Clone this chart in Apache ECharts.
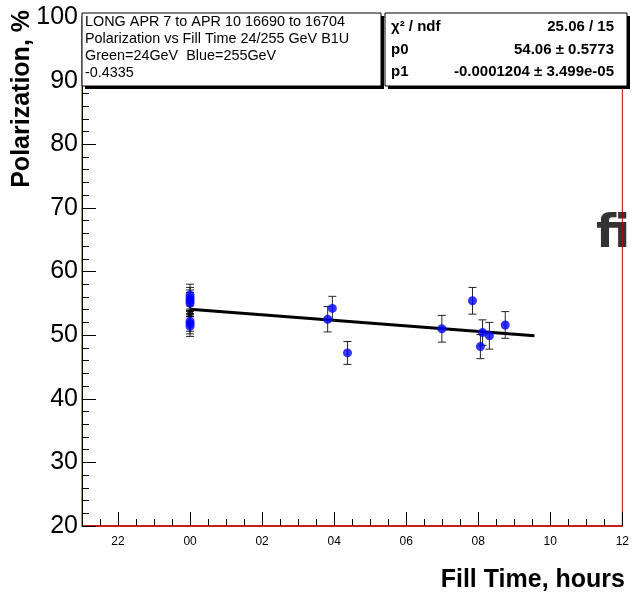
<!DOCTYPE html>
<html>
<head>
<meta charset="utf-8">
<script src="https://cdn.jsdelivr.net/npm/echarts@6/dist/echarts.min.js"></script>
<style>html,body{margin:0;padding:0;background:#fff}#c{width:632px;height:593px}</style>
</head>
<body>
<div id="c"></div>
<script>
// ---- data (hours relative to midnight; 00 = 0, 22 = -2) ----
const fillHours = [0, 0, 0, 0, 0, 0, 0, 3.82, 3.95, 4.37, 6.99, 7.84, 8.06, 8.12, 8.31, 8.75];
const polValues = [56.3, 55.8, 55.4, 55.0, 52.2, 51.8, 51.4, 52.5, 54.2, 47.2, 51.0, 55.4, 48.2, 50.4, 49.9, 51.6];
const polErrors = [1.7, 1.7, 1.7, 1.7, 1.6, 1.6, 1.6, 2.0, 1.9, 1.8, 2.1, 2.1, 1.9, 2.0, 2.1, 2.1];
const blackHours = [0];
const blackValues = [53.4];
const blackErrors = [0.5];
const fitHours = [0, 9.56];
const fitValues = [54.06, 49.92];
const majorTicks = [-2, 0, 2, 4, 6, 8, 10, 12];
const box1Lines = ['LONG APR 7 to APR 10 16690 to 16704', 'Polarization vs Fill Time 24/255 GeV B1U', 'Green=24GeV  Blue=255GeV', '-0.4335'];
const statNames = ['\u03c7\u00b2 / ndf', 'p0', 'p1'];
const statValues = ['25.06 / 15', '54.06 \u00b1 0.5773', '-0.0001204 \u00b1 3.499e-05'];

const FONT = '"Liberation Sans", Arial, sans-serif';
const pts = fillHours.map((h, i) => [h, polValues[i], polErrors[i]]);
const blk = blackHours.map((h, i) => [h, blackValues[i], blackErrors[i]]);

function errRender(color) {
  return function (params, api) {
    const x = api.value(0), y = api.value(1), e = api.value(2);
    const t = api.coord([x, y + e]), b = api.coord([x, y - e]);
    const st = { stroke: color, lineWidth: 1 };
    return { type: 'group', children: [
      { type: 'line', shape: { x1: t[0], y1: t[1], x2: b[0], y2: b[1] }, style: st },
      { type: 'line', shape: { x1: t[0] - 4, y1: t[1], x2: t[0] + 4, y2: t[1] }, style: st },
      { type: 'line', shape: { x1: b[0] - 4, y1: b[1], x2: b[0] + 4, y2: b[1] }, style: st }
    ]};
  };
}

const hourFmt = v => { const h = ((Math.round(v) % 24) + 24) % 24; return (h < 10 ? '0' : '') + h; };

const graphics = [];
// watermark fragment
graphics.push({ type: 'text', z: -10, left: 596, top: 212, style: { text: 'fi', font: 'bold 46px "DejaVu Sans", sans-serif', fill: '#333', shadowBlur: 4, shadowColor: 'rgba(0,0,0,0.5)', shadowOffsetX: 2, shadowOffsetY: 2 } });
// box 1
graphics.push({ type: 'rect', z: 10, shape: { x: 85, y: 16, width: 299, height: 73 }, style: { fill: '#000' } });
graphics.push({ type: 'rect', z: 11, shape: { x: 82, y: 13, width: 299, height: 73 }, style: { fill: '#fff', stroke: '#000', lineWidth: 1 } });
box1Lines.forEach((t, i) => graphics.push({ type: 'text', z: 12, x: 85, y: 22 + i * 17, style: { text: t, font: '14.4px ' + FONT, fill: '#000', verticalAlign: 'middle', align: 'left' } }));
// box 2
graphics.push({ type: 'rect', z: 10, shape: { x: 388, y: 16, width: 242, height: 73 }, style: { fill: '#000' } });
graphics.push({ type: 'rect', z: 11, shape: { x: 385, y: 13, width: 242, height: 73 }, style: { fill: '#fff', stroke: '#000', lineWidth: 1 } });
statNames.forEach((t, i) => {
  graphics.push({ type: 'text', z: 12, x: 391, y: 27 + i * 22.5, style: { text: t, font: 'bold 15px ' + FONT, fill: '#000', verticalAlign: 'middle', align: 'left' } });
  graphics.push({ type: 'text', z: 12, x: 614, y: 27 + i * 22.5, style: { text: statValues[i], font: 'bold 15px ' + FONT, fill: '#000', verticalAlign: 'middle', align: 'right' } });
});
// axis titles
graphics.push({ type: 'text', z: 5, x: 22, y: 10, rotation: Math.PI / 2, style: { text: 'Polarization, %', font: 'bold 25px ' + FONT, fill: '#000', align: 'right', verticalAlign: 'middle' } });
graphics.push({ type: 'text', z: 5, x: 625, y: 580, style: { text: 'Fill Time, hours', font: 'bold 25px ' + FONT, fill: '#000', align: 'right', verticalAlign: 'middle' } });

const chart = echarts.init(document.getElementById('c'), null, { renderer: 'canvas' });
chart.setOption({
  animation: false,
  backgroundColor: '#fff',
  grid: { left: 82, right: 9, top: 17, bottom: 67, show: true, borderColor: '#c00000', borderWidth: 1, backgroundColor: 'transparent' },
  xAxis: [
    { type: 'value', min: -3, max: 12, interval: 0.5, position: 'bottom',
      axisLine: { show: true, onZero: false, lineStyle: { color: '#c00000', width: 1.5 } },
      axisTick: { show: true, inside: true, length: 7, lineStyle: { color: '#000' } },
      axisLabel: { show: false }, splitLine: { show: false } },
    { type: 'value', min: -3, max: 12, interval: 1, position: 'bottom',
      axisLine: { show: false, onZero: false },
      axisTick: { show: true, inside: true, length: 14, customValues: majorTicks, lineStyle: { color: '#000' } },
      axisLabel: { show: true, customValues: majorTicks, formatter: hourFmt, fontFamily: FONT, fontSize: 12, color: '#000', margin: 10 },
      splitLine: { show: false } }
  ],
  yAxis: { type: 'value', min: 20, max: 100, interval: 10, position: 'left',
    axisLine: { show: true, onZero: false, lineStyle: { color: '#000' } },
    axisTick: { show: true, inside: true, length: 14, lineStyle: { color: '#000' } },
    minorTick: { show: true, splitNumber: 5, length: 7, lineStyle: { color: '#000' } },
    axisLabel: { fontFamily: FONT, fontSize: 25, color: '#000', margin: 4 },
    splitLine: { show: false } },
  graphic: graphics,
  series: [
    { type: 'line', data: fitHours.map((h, i) => [h, fitValues[i]]), symbol: 'none', lineStyle: { color: '#000', width: 3 }, z: 3 },
    { type: 'custom', data: pts, renderItem: errRender('#222'), z: 4, encode: { x: 0, y: 1 } },
    { type: 'custom', data: blk, renderItem: errRender('#000'), z: 4, encode: { x: 0, y: 1 } },
    { type: 'scatter', data: pts.map(p => [p[0], p[1]]), symbol: 'circle', symbolSize: 9, itemStyle: { color: '#0000ff' }, z: 5 },
    { type: 'scatter', data: blk.map(p => [p[0], p[1]]), symbol: 'circle', symbolSize: 6, itemStyle: { color: '#000' }, z: 5 }
  ]
});
</script>
</body>
</html>
